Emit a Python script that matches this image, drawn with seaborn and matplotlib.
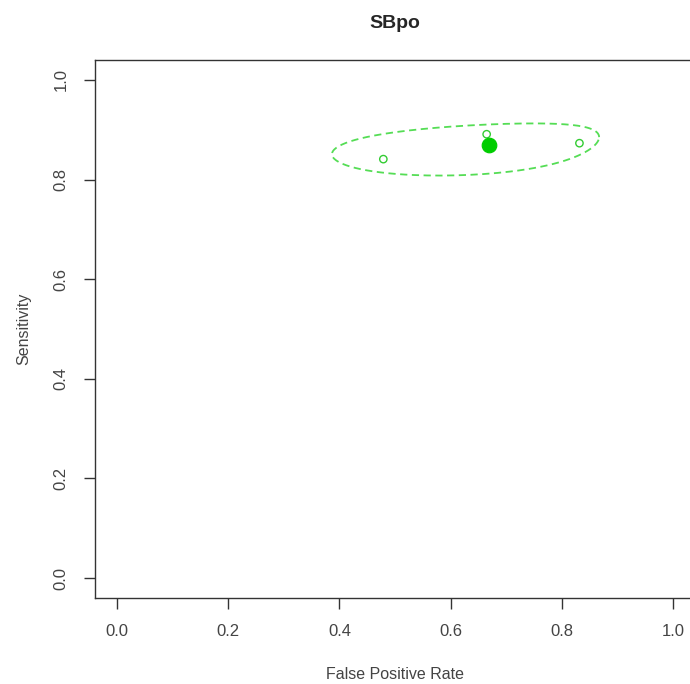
import numpy as np
import pandas as pd
import seaborn as sns
import matplotlib.pyplot as plt

# study estimates (false positive rate, sensitivity)
study_fpr = [0.479, 0.665, 0.832]
study_sens = [0.841, 0.891, 0.873]

# summary estimate
summary_fpr = [0.670]
summary_sens = [0.869]

# confidence region in logit space: half-ranges and correlation
logit_half_fpr = 1.17
logit_half_sens = 0.455
region_corr = 0.33

x_ticks = [0.0, 0.2, 0.4, 0.6, 0.8, 1.0]
y_ticks = [0.0, 0.2, 0.4, 0.6, 0.8, 1.0]


def logit(p):
    return np.log(p / (1 - p))


def expit(z):
    return 1 / (1 + np.exp(-z))


t = np.linspace(0, 2 * np.pi, 200)
delta = np.arccos(region_corr)
ell = pd.DataFrame({
    "fpr": expit(logit(summary_fpr[0]) + logit_half_fpr * np.cos(t)),
    "sens": expit(logit(summary_sens[0]) + logit_half_sens * np.cos(t - delta)),
})
studies = pd.DataFrame({"fpr": study_fpr, "sens": study_sens})
summary = pd.DataFrame({"fpr": summary_fpr, "sens": summary_sens})

sns.set_style("white")
plt.rcParams["font.family"] = ["Liberation Sans", "DejaVu Sans"]

fig = plt.figure(figsize=(6.9, 6.84), dpi=100)
ax = fig.add_axes([95 / 690, 86 / 684, 600 / 690, 538 / 684])

sns.lineplot(data=ell, x="fpr", y="sens", sort=False, estimator=None,
             color="#55dd55", linestyle=(0, (4, 2.5)), linewidth=1.3, ax=ax)
sns.scatterplot(data=studies, x="fpr", y="sens", marker="o", s=28,
                facecolor="none", edgecolor="#33cc33", linewidth=1.0, ax=ax)
sns.scatterplot(data=summary, x="fpr", y="sens", marker="o", s=110,
                color="#00cd00", edgecolor="#00cd00", ax=ax)

ax.set_xlim(-0.04, 1.04)
ax.set_ylim(-0.04, 1.04)
ax.set_xticks(x_ticks)
ax.set_yticks(y_ticks)
ax.set_xticklabels([f"{v:.1f}" for v in x_ticks])
ax.set_yticklabels([f"{v:.1f}" for v in y_ticks], rotation=90, va="center")
ax.tick_params(axis="both", direction="out", length=8, width=1, color="#333333",
               labelcolor="#444444", labelsize=12, pad=11, left=True, bottom=True)
for sp in ax.spines.values():
    sp.set_color("#333333")
    sp.set_linewidth(1)

ax.set_xlabel("False Positive Rate", fontsize=11.5, color="#444444", labelpad=20)
ax.set_ylabel("Sensitivity", fontsize=11.5, color="#444444", labelpad=16)
ax.set_title("SBpo", fontsize=14, fontweight="bold", pad=23)

fig.savefig("out.png", dpi=100)
